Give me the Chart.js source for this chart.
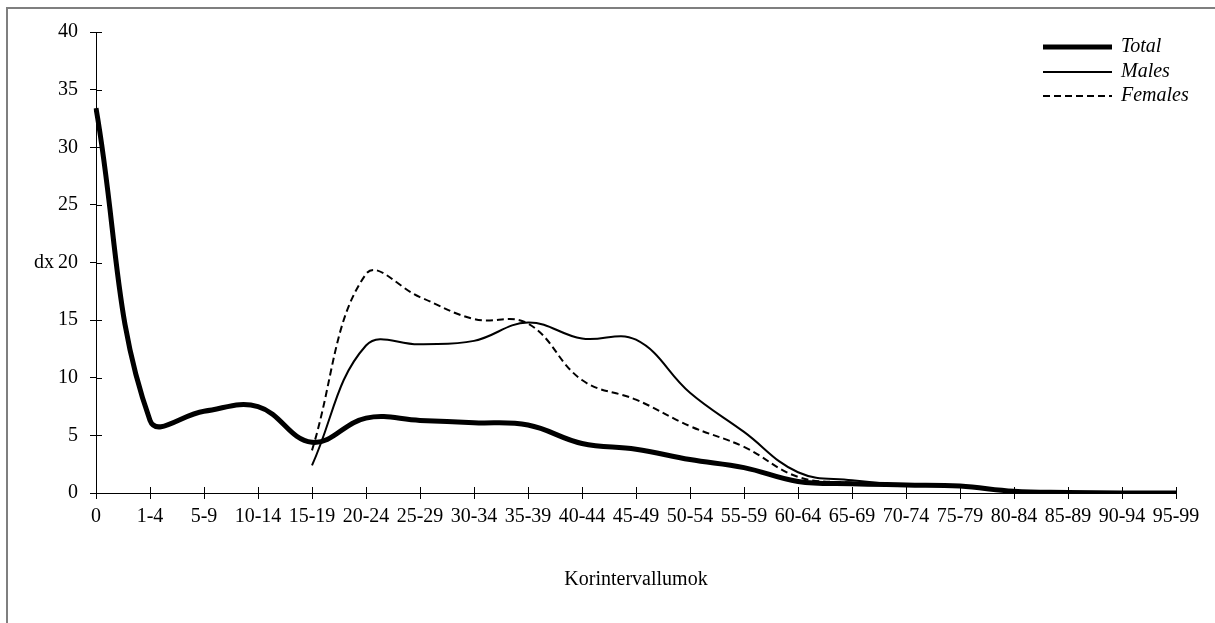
<!DOCTYPE html>
<html>
<head>
<meta charset="utf-8">
<script src="https://cdn.jsdelivr.net/npm/chart.js@4/dist/chart.umd.min.js"></script>
<style>
    html, body { margin: 0; padding: 0; background: #fff; }
    #wrap { position: relative; width: 1215px; height: 623px; }
</style>
</head>
<body>
<div id="wrap"><canvas id="curve-dx"></canvas></div>
<script>
// data
const ageGroups = ['0', '1-4', '5-9', '10-14', '15-19', '20-24', '25-29', '30-34', '35-39', '40-44',
    '45-49', '50-54', '55-59', '60-64', '65-69', '70-74', '75-79', '80-84', '85-89', '90-94', '95-99'];
const totalDx = [33.4, 6.3, 7.1, 7.5, 4.4, 6.5, 6.3, 6.1, 5.9, 4.3, 3.8, 2.9, 2.2, 1.0, 0.8, 0.7, 0.6, 0.15, 0.05, 0, 0];
const malesDx = [null, null, null, null, 2.4, 12.8, 12.9, 13.2, 14.8, 13.4, 13.3, 8.7, 5.3, 1.8, 1.1, 0.7, 0.6, 0.1, 0, 0, 0];
const femalesDx = [null, null, null, null, 3.7, 19.0, 17.0, 15.1, 14.7, 9.8, 8.1, 5.8, 4.0, 1.4, 0.9, 0.7, 0.6, 0.1, 0, 0, 0];
const yTicks = [0, 5, 10, 15, 20, 25, 30, 35, 40];
const legendRows = [47, 72, 96];

const serif = "'Liberation Serif', 'Times New Roman', serif";

// gray frame, inner tick halves, "dx" label and the legend
const extras = {
    id: 'extras',
    beforeDraw(chart) {
        const ctx = chart.ctx;
        ctx.save();
        ctx.strokeStyle = '#7f7f7f';
        ctx.lineWidth = 2;
        ctx.strokeRect(7, 8, 1400, 1000);
        ctx.restore();
    },
    afterDraw(chart) {
        const ctx = chart.ctx;
        const x = chart.scales.x;
        const y = chart.scales.y;
        const area = chart.chartArea;
        ctx.save();
        ctx.strokeStyle = '#000';
        ctx.lineWidth = 1;
        ctx.beginPath();
        for (let i = 0; i < ageGroups.length; i++) {
            const px = Math.round(x.getPixelForValue(i)) + 0.5;
            ctx.moveTo(px, area.bottom);
            ctx.lineTo(px, area.bottom - 6);
        }
        yTicks.forEach(v => {
            const py = Math.round(y.getPixelForValue(v)) + 0.5;
            ctx.moveTo(area.left, py);
            ctx.lineTo(area.left + 6, py);
        });
        ctx.stroke();

        // y title, written horizontally next to 20
        ctx.fillStyle = '#000';
        ctx.font = '20px ' + serif;
        ctx.textAlign = 'right';
        ctx.textBaseline = 'middle';
        ctx.fillText('dx', 54, y.getPixelForValue(20));

        // legend
        ctx.font = 'italic 20px ' + serif;
        ctx.textAlign = 'left';
        chart.data.datasets.forEach((ds, i) => {
            const ly = legendRows[i];
            ctx.beginPath();
            ctx.lineWidth = ds.borderWidth;
            ctx.setLineDash(ds.borderDash || []);
            ctx.moveTo(1043, ly);
            ctx.lineTo(1112, ly);
            ctx.stroke();
            ctx.fillText(ds.label, 1121, ly);
        });
        ctx.restore();
    }
};

const dxChart = new Chart(document.getElementById('curve-dx').getContext('2d'), {
    type: 'line',
    data: {
        labels: ageGroups,
        datasets: [
            { label: 'Total', data: totalDx, borderColor: '#000', borderWidth: 5, tension: 0.4 },
            { label: 'Males', data: malesDx, borderColor: '#000', borderWidth: 2, tension: 0.4 },
            { label: 'Females', data: femalesDx, borderColor: '#000', borderWidth: 2, borderDash: [7, 4], tension: 0.4 }
        ]
    },
    options: {
        responsive: true,
        maintainAspectRatio: false,
        animation: false,
        elements: { point: { radius: 0 } },
        layout: { padding: { left: 0, right: 39, top: 32, bottom: 0 } },
        plugins: {
            legend: { display: false },
            tooltip: { enabled: false }
        },
        scales: {
            x: {
                offset: false,
                grid: { drawOnChartArea: false, color: '#000', tickLength: 6 },
                border: { color: '#000', width: 1 },
                ticks: { color: '#000', padding: 6, maxRotation: 0, autoSkip: false, font: { family: serif, size: 20 } },
                title: { display: true, text: 'Korintervallumok', color: '#000', font: { family: serif, size: 20 }, padding: { top: 0, bottom: 31 } },
                afterFit: (scale) => { scale.height = 130; }
            },
            y: {
                min: 0,
                max: 40,
                grid: { drawOnChartArea: false, color: '#000', tickLength: 6 },
                border: { color: '#000', width: 1 },
                ticks: { stepSize: 5, color: '#000', padding: 12, font: { family: serif, size: 20 } },
                afterFit: (scale) => { scale.width = 96; }
            }
        }
    },
    plugins: [extras]
});
</script>
</body>
</html>
